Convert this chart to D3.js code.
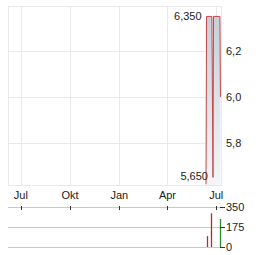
<!DOCTYPE html>
<html>
<head>
<meta charset="utf-8">
<script src="https://cdn.jsdelivr.net/npm/d3@7"></script>
<style>
  body { margin: 0; background: #fff; }
  svg text { font-family: "Liberation Sans", Arial, sans-serif; font-size: 11px; fill: #222; }
</style>
</head>
<body>
<svg id="chart" width="264" height="255"></svg>
<script>
// price series (close), dates
var priceDates = ["2025-06-12", "2025-06-13", "2025-06-23", "2025-06-25", "2025-06-26", "2025-07-08", "2025-07-09"];
var priceValues = [5.62, 6.35, 6.35, 5.65, 6.35, 6.35, 6.0];

// high / low markers
var extremeDates = ["2025-06-13", "2025-06-25"];
var extremeValues = [6.35, 5.65];
var extremeLabels = ["6,350", "5,650"];

// volume
var volDates = ["2025-06-13", "2025-06-22", "2025-07-08"];
var volValues = [95, 295, 245];
var volUp = [false, false, true];

var xTickDates = ["2024-07-01", "2024-10-01", "2025-01-01", "2025-04-01", "2025-07-01"];
var xTickLabels = ["Jul", "Okt", "Jan", "Apr", "Jul"];
var yTicks = [5.8, 6.0, 6.2];
var volTicks = [0, 175, 350];

var parse = d3.timeParse("%Y-%m-%d");
var svg = d3.select("#chart");

var x = d3.scaleTime()
    .domain([parse("2024-06-07"), parse("2025-07-10")])
    .range([8, 221]);
var y = d3.scaleLinear().domain([5.617, 6.391]).range([185, 7]);
var yv = d3.scaleLinear().domain([0, 350]).range([247, 207]);

var fmt = function (v) { return d3.format(".1f")(v).replace(".", ","); };

// gradient for the area
var grad = svg.append("defs").append("linearGradient")
    .attr("id", "areaGrad").attr("x1", 0).attr("y1", 0).attr("x2", 0).attr("y2", 1);
grad.append("stop").attr("offset", "0%").attr("stop-color", "#c6cfd8");
grad.append("stop").attr("offset", "100%").attr("stop-color", "#f4f6f8");

// main grid
var grid = svg.append("g").attr("class", "grid");
grid.selectAll("line.v")
    .data(xTickDates)
    .enter().append("line")
    .attr("x1", function (d) { return Math.round(x(parse(d))) + 0.5; })
    .attr("x2", function (d) { return Math.round(x(parse(d))) + 0.5; })
    .attr("y1", 7).attr("y2", 185)
    .style("stroke", "#e9e9e9");
grid.selectAll("line.h")
    .data(yTicks)
    .enter().append("line")
    .attr("x1", 8).attr("x2", 221)
    .attr("y1", function (d) { return Math.round(y(d)) + 0.5; })
    .attr("y2", function (d) { return Math.round(y(d)) + 0.5; })
    .style("stroke", "#e9e9e9");
grid.append("rect")
    .attr("x", 8.5).attr("y", 6.5).attr("width", 213).attr("height", 179)
    .style("fill", "none").style("stroke", "#e9e9e9");

var pts = priceDates.map(function (d, i) { return { date: parse(d), value: priceValues[i] }; });

var area = d3.area()
    .x(function (d) { return x(d.date); })
    .y0(185)
    .y1(function (d) { return y(d.value); });
var line = d3.line()
    .x(function (d) { return x(d.date); })
    .y(function (d) { return y(d.value); });

svg.append("path").datum(pts)
    .attr("d", area)
    .style("fill", "url(#areaGrad)");
svg.append("path").datum(pts)
    .attr("d", line)
    .style("fill", "none")
    .style("stroke", "#c2474b")
    .style("stroke-width", 1);

// high / low labels
svg.selectAll("text.ext")
    .data(extremeDates)
    .enter().append("text")
    .attr("class", "ext")
    .attr("x", function (d) { return x(parse(d)) - 5; })
    .attr("y", function (d, i) { return y(extremeValues[i]) + (i === 0 ? 4 : 3); })
    .attr("text-anchor", "end")
    .text(function (d, i) { return extremeLabels[i]; });

// right axis price
svg.selectAll("text.ytick")
    .data(yTicks)
    .enter().append("text")
    .attr("x", 226)
    .attr("y", function (d) { return y(d) + 4; })
    .text(fmt);

// x labels
svg.selectAll("text.xtick")
    .data(xTickDates)
    .enter().append("text")
    .attr("x", function (d) { return x(parse(d)); })
    .attr("y", 199)
    .attr("text-anchor", "middle")
    .text(function (d, i) { return xTickLabels[i]; });

// volume grid
svg.selectAll("line.vgrid")
    .data(volTicks)
    .enter().append("line")
    .attr("x1", 8).attr("x2", 220)
    .attr("y1", function (d) { return Math.round(yv(d)) + 0.5; })
    .attr("y2", function (d) { return Math.round(yv(d)) + 0.5; })
    .style("stroke", "#c8c8c8");

// x tick marks on the volume top line
svg.selectAll("line.xmark")
    .data(xTickDates)
    .enter().append("line")
    .attr("x1", function (d) { return Math.round(x(parse(d))) + 0.5; })
    .attr("x2", function (d) { return Math.round(x(parse(d))) + 0.5; })
    .attr("y1", 206).attr("y2", 210)
    .style("stroke", "#333");

// volume bars
svg.selectAll("line.vol")
    .data(volDates)
    .enter().append("line")
    .attr("x1", function (d) { return Math.round(x(parse(d))) + 0.5; })
    .attr("x2", function (d) { return Math.round(x(parse(d))) + 0.5; })
    .attr("y1", 247)
    .attr("y2", function (d, i) { return yv(volValues[i]); })
    .style("stroke", function (d, i) { return volUp[i] ? "#2a8a2a" : "#b52a2a"; })
    .style("stroke-width", 1.3);

// volume right axis
var vAxis = svg.append("g").attr("class", "vaxis");
vAxis.selectAll("line")
    .data(volTicks)
    .enter().append("line")
    .attr("x1", 220).attr("x2", 225)
    .attr("y1", function (d) { return Math.round(yv(d)) + 0.5; })
    .attr("y2", function (d) { return Math.round(yv(d)) + 0.5; })
    .style("stroke", "#333");
vAxis.selectAll("text")
    .data(volTicks)
    .enter().append("text")
    .attr("x", 226)
    .attr("y", function (d) { return yv(d) + 4; })
    .text(function (d) { return d; });
</script>
</body>
</html>
